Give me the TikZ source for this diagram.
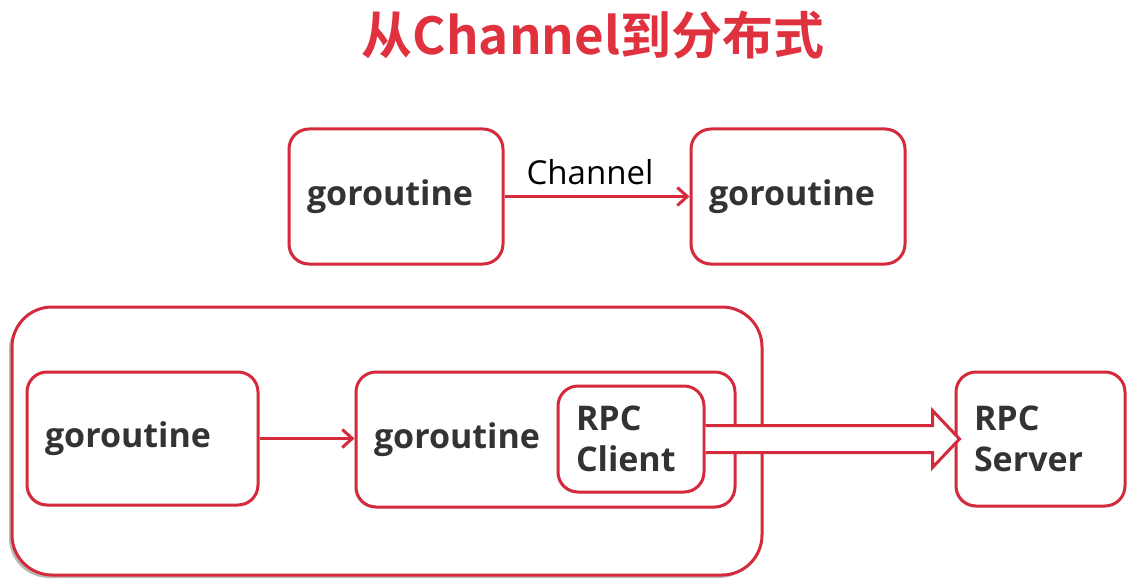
\documentclass[tikz,border=0pt]{standalone}
\usepackage{fontspec}
\setmainfont{Open Sans}
\newfontfamily\cjkfont{Noto Sans CJK SC}[BoldFont={* Bold}]
\usetikzlibrary{arrows.meta,shadows,calc}
\definecolor{bred}{HTML}{D42A3C}
\definecolor{tred}{HTML}{E0313F}
\definecolor{ink}{HTML}{333333}
\tikzset{
  box/.style={draw=bred, line width=3pt, fill=white, rounded corners=20pt,
    align=left, inner xsep=18pt, inner ysep=0pt, text=ink,
    font=\fontsize{34}{41}\selectfont\bfseries,
    drop shadow={opacity=0.25, shadow xshift=-1.5pt, shadow yshift=-1.5pt}},
  bigbox/.style={draw=bred, line width=3pt, fill=white, rounded corners=40pt,
    drop shadow={opacity=0.55, shadow xshift=-3pt, shadow yshift=-3pt}},
  link/.style={draw=bred, line width=3pt, -{Straight Barb[length=10pt,width=18pt,line width=3pt]}}
}
\begin{document}
\begin{tikzpicture}[x=1pt,y=-1pt]
\useasboundingbox (0,0) rectangle (1135,583);
\node[font=\cjkfont\bfseries\fontsize{51}{56}\selectfont, text=tred] (title) at (593,35) {从Channel到分布式};

\node[box, minimum width=214pt, minimum height=135pt, text width=178pt] (tl) at (396,196.5) {goroutine};
\node[box, minimum width=214pt, minimum height=135pt, text width=178pt] (tr) at (798,196.5) {goroutine};
\draw[link] (tl.east) -- node[above=7pt, xshift=-7pt, font=\fontsize{33}{38}\selectfont, text=black] (chan) {Channel} (tr.west);

\node[bigbox, minimum width=750pt, minimum height=268pt] (big) at (387,441) {};
\node[box, minimum width=231pt, minimum height=133pt, text width=195pt] (gl) at (142.5,438.5) {goroutine};
\node[box, minimum width=379pt, minimum height=135pt, text width=343pt] (gm) at (545.5,439.5) {goroutine};
\node[box, minimum width=146pt, minimum height=106pt, text width=110pt] (rc) at (631,439) {RPC\\Client};
\node[box, minimum width=169pt, minimum height=134pt, text width=133pt] (rs) at (1040.5,439) {RPC\\Server};
\draw[link] (gl.east) -- (gm.west |- gl.east);

\coordinate (a1) at ($(rc.east)+(0,-13.5)$);
\coordinate (a2) at ($(rc.east)+(0,13.5)$);
\coordinate (tip) at ($(rs.west)+(5,0)$);
\draw[draw=bred, line width=3pt, fill=white, line join=miter]
  (a1) -- ($(tip)+(-27,-13.5)$) -- ($(tip)+(-27,-28.5)$) -- (tip)
  -- ($(tip)+(-27,28.5)$) -- ($(tip)+(-27,13.5)$) -- (a2);
\end{tikzpicture}
\end{document}
